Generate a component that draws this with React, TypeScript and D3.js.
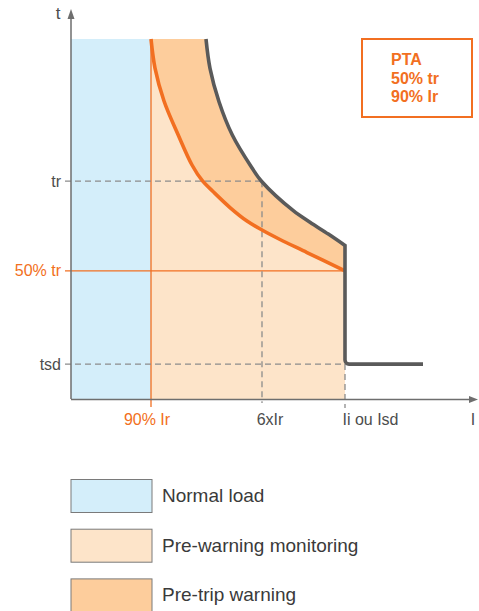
import React from "react";
import * as d3 from "d3";

// ---- data (abstract units: I on 0..100, t on 0..100) ----
const prealarmI = [20, 21, 23.25, 26.75, 30.25, 32.88, 35.5, 39.75, 44, 47.75, 52.25, 59, 68.5];
const prealarmT = [100, 91.94, 82.78, 73.47, 65.0, 60.56, 57.64, 53.19, 49.44, 46.94, 44.31, 40.69, 35.56];
const tripI = [33.75, 34.75, 37, 40.33, 45.18, 47.68, 55.58, 59.75, 64.33, 68.5];
const tripT = [100, 91.86, 82.58, 73.33, 64.31, 60.42, 52.3, 49.1, 45.8, 42.64];
const tripTailI = [68.5, 88];
const tsdValue = 9.7;

const xTickLabels = ["90% Ir", "6xIr", "Ii ou Isd"];
const xTickValues = [20, 47.75, 68.5];
const yTickLabels = ["tr", "50% tr", "tsd"];
const yTickValues = [60.5, 35.6, 9.7];
const legendLabels = ["Normal load", "Pre-warning monitoring", "Pre-trip warning"];
const boxLines = ["PTA", "50% tr", "90% Ir"];

const ORANGE = "#F26F21";
const GREY = "#5a5a5a";
const DASH = "#8c8c8c";
const BLUE_FILL = "#D4EEFA";
const LIGHT_FILL = "#FDE4C9";
const DARK_FILL = "#FDCD9C";
const TEXT = "#4d4d4d";
const FONT = "'Liberation Sans', Arial, Helvetica, sans-serif";

export default function App() {
  const W = 479, H = 611;
  const x = d3.scaleLinear().domain([0, 100]).range([71, 471]);
  const y = d3.scaleLinear().domain([0, 100]).range([399, 39]);

  const pre = prealarmI.map((v, i) => [v, prealarmT[i]] as [number, number]);
  const trip = tripI.map((v, i) => [v, tripT[i]] as [number, number]);

  const line = d3.line<[number, number]>()
    .x(d => x(d[0])).y(d => y(d[1])).curve(d3.curveCatmullRom.alpha(0.5));

  const xIr = x(xTickValues[0]);
  const x6 = x(xTickValues[1]);
  const xIi = x(xTickValues[2]);
  const yTr = y(yTickValues[0]);
  const yHalf = y(yTickValues[1]);
  const yTsd = y(yTickValues[2]);
  const x0 = x(0), y0 = y(0), yTop = y(100);

  const preLine = line(pre) || "";
  const tripLine = line(trip) || "";
  const lightArea = `M${xIr},${y0}L${xIr},${yTop}L` + preLine.slice(1) + `L${xIi},${y0}Z`;
  const darkArea = `M${xIr},${y0}L${xIr},${yTop}L` + tripLine.slice(1) + `L${xIi},${y0}Z`;

  // trip curve with vertical drop and horizontal tail
  const p = d3.path();
  line.context(p)(trip);
  line.context(null);
  const r = 4;
  p.lineTo(x(tripTailI[0]), y(tsdValue) - r);
  p.arcTo(x(tripTailI[0]), y(tsdValue), x(tripTailI[0]) + r, y(tsdValue), r);
  p.lineTo(x(tripTailI[1]), y(tsdValue));

  const xLabelX = [147, 270, 370.5];
  const xLabelColor = [ORANGE, TEXT, TEXT];
  const yLabelColor = [TEXT, ORANGE, TEXT];

  return (
    <svg width={W} height={H} style={{ position: "absolute", left: 0, top: 0, fontFamily: FONT }}>
      <rect x={0} y={0} width={W} height={H} fill="#fff" />
      {/* zones */}
      <rect x={x0} y={yTop} width={xIr - x0} height={y0 - yTop} fill={BLUE_FILL} />
      <path d={darkArea} fill={DARK_FILL} />
      <path d={lightArea} fill={LIGHT_FILL} />

      {/* reference lines */}
      <line x1={xIr} x2={xIr} y1={yTop} y2={407} stroke={ORANGE} strokeWidth={1.3} />
      <line x1={65} x2={xIi} y1={yHalf} y2={yHalf} stroke={ORANGE} strokeWidth={1.3} />
      <line x1={65} x2={x6} y1={yTr} y2={yTr} stroke={DASH} strokeWidth={1.3} strokeDasharray="6,4" />
      <line x1={x6} x2={x6} y1={yTr} y2={403} stroke={DASH} strokeWidth={1.3} strokeDasharray="6,4" />
      <line x1={65} x2={xIi} y1={yTsd} y2={yTsd} stroke={DASH} strokeWidth={1.3} strokeDasharray="6,4" />
      <line x1={xIi} x2={xIi} y1={yTsd} y2={408} stroke={DASH} strokeWidth={1.3} strokeDasharray="6,4" />

      {/* curves */}
      <path d={preLine} fill="none" stroke={ORANGE} strokeWidth={3.6} />
      <path d={p.toString()} fill="none" stroke={GREY} strokeWidth={3.6} strokeLinejoin="miter" />

      {/* axes */}
      <line x1={x0} x2={x0} y1={y0} y2={16} stroke="#6e6e6e" strokeWidth={1.5} />
      <polygon points={`${x0},9 ${x0 - 3.5},19 ${x0 + 3.5},19`} fill="#6e6e6e" />
      <line x1={x0} x2={471} y1={y0 + 0.5} y2={y0 + 0.5} stroke="#6e6e6e" strokeWidth={1.5} />
      <polygon points={`478,${y0 + 0.5} 469,${y0 - 3} 469,${y0 + 4}`} fill="#6e6e6e" />

      <text x={58} y={19} fontSize={17} fill={TEXT} textAnchor="middle">t</text>
      <text x={473} y={425} fontSize={16} fill={TEXT} textAnchor="middle">I</text>
      {yTickLabels.map((lab, i) => (
        <text key={lab} x={61} y={y(yTickValues[i])} dy="0.35em" fontSize={16} fill={yLabelColor[i]} textAnchor="end">{lab}</text>
      ))}
      {xTickLabels.map((lab, i) => (
        <text key={lab} x={xLabelX[i]} y={425} fontSize={16} fill={xLabelColor[i]} textAnchor="middle">{lab}</text>
      ))}

      {/* PTA box */}
      <rect x={362} y={39} width={110} height={78} fill="none" stroke={ORANGE} strokeWidth={2} />
      {boxLines.map((t, i) => (
        <text key={t} x={391} y={65 + i * 18.5} fontSize={16} fontWeight="bold" fill={ORANGE}>{t}</text>
      ))}

      {/* legend */}
      {legendLabels.map((lab, i) => (
        <g key={lab} transform={`translate(0, ${479.5 + i * 49.7})`}>
          <rect x={71} y={0} width={81} height={33} fill={[BLUE_FILL, LIGHT_FILL, DARK_FILL][i]} stroke="#7a7a7a" strokeWidth={1} />
          <text x={162} y={22.5} fontSize={19} fill="#3a3a3a">{lab}</text>
        </g>
      ))}
    </svg>
  );
}
